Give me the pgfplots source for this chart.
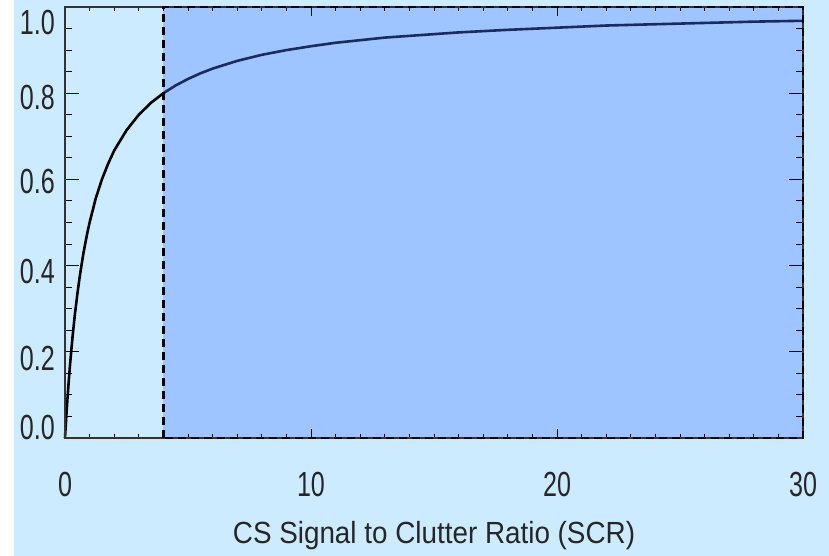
\documentclass[border=0pt]{standalone}
\usepackage{fontspec}
\setmainfont{Liberation Sans}
\usepackage{pgfplots}
\pgfplotsset{compat=1.18}

\definecolor{pagebg}{RGB}{205,235,255}
\definecolor{zonefill}{RGB}{158,197,255}
\definecolor{curvenavy}{RGB}{28,43,94}

% narrow digits for the tick labels
\newcommand\narrow[1]{\scalebox{0.72}[1]{#1}}
% y tick label: raise/lower by #1 bp relative to the tick, centred on the digits
\newcommand\yl[2]{\smash{\raisebox{\dimexpr #1bp-12.5bp\relax}{\narrow{#2}}}}
\newcommand\ylab{\ifcase\ticknum \yl{11}{0.0}\or \yl{-6}{0.2}\or \yl{-5}{0.4}\or \yl{-2}{0.6}\or \yl{-4}{0.8}\or \yl{-15}{1.0}\fi}

\begin{document}
\begin{tikzpicture}
% page background
\fill[white] (0,0) rectangle (14bp,556bp);
\fill[pagebg] (14bp,0) rectangle (829bp,556bp);

\begin{axis}[
  set layers, axis on top, clip=false,
  at={(65bp,118bp)}, anchor=south west,
  width=738bp, height=431bp, scale only axis,
  xmin=0, xmax=30, ymin=0, ymax=1,
  xtick={0,10,20,30}, ytick={0,0.2,0.4,0.6,0.8,1.0},
  minor x tick num=9, minor y tick num=3,
  tick align=inside,
  axis line style={black!80, line width=1.2bp},
  every tick/.style={black, line width=1bp},
  xtick style={/pgfplots/major tick length=9bp, /pgfplots/minor tick length=4bp},
  ytick style={/pgfplots/major tick length=14bp, /pgfplots/minor tick length=7bp},
  tick label style={font=\fontsize{35}{35}\selectfont, inner sep=0pt, black!85},
  /pgf/number format/assume math mode=true,
  xticklabel={\narrow{\pgfmathprintnumber{\tick}}},
  xticklabel style={anchor=base, yshift=-59bp},
  yticklabel={\ylab},
  yticklabel style={anchor=east, xshift=-10bp},
  xlabel={\scalebox{0.91}[1]{CS Signal to Clutter Ratio (SCR)}},
  xlabel style={font=\fontsize{30.7}{30.7}\selectfont, black!85, inner sep=0pt,
    at={(axis description cs:0.5,0)}, anchor=base, yshift=-105bp},
]
% shaded region SCR >= 4
\addplot[draw=none, fill=zonefill] coordinates {(4,1) (30,1)} \closedcycle;

% detection curve, part left of the threshold
\addplot[black, line width=2.6bp] coordinates {
  (0,0) (0.05,0.048) (0.1,0.091) (0.15,0.130) (0.2,0.167) (0.3,0.231)
  (0.4,0.286) (0.5,0.333) (0.6,0.375) (0.75,0.429) (0.9,0.474) (1,0.5)
  (1.25,0.556) (1.5,0.6) (1.75,0.636) (2,0.667) (2.5,0.714) (3,0.75)
  (3.5,0.778) (4,0.8)
};
% part right of the threshold
\addplot[curvenavy, line width=2.6bp] coordinates {
  (4,0.8) (4.5,0.818) (5,0.833) (5.5,0.846) (6,0.857) (7,0.875) (8,0.889)
  (9,0.9) (10,0.909) (11,0.917) (12,0.923) (13,0.929) (14,0.933)
  (16,0.941) (18,0.947) (20,0.952) (22,0.957) (24,0.96) (26,0.963)
  (28,0.966) (30,0.968)
};

% dashed outline of the region, drawn above the axis frame
\addplot[on layer=axis foreground, black, line width=2.4bp, dash pattern=on 8bp off 5bp]
  coordinates {(4,0) (4,1) (30,1) (30,0) (4,0)};
\end{axis}
\pgfresetboundingbox
\useasboundingbox (0,0) rectangle (829bp,556bp);
\end{tikzpicture}
\end{document}
